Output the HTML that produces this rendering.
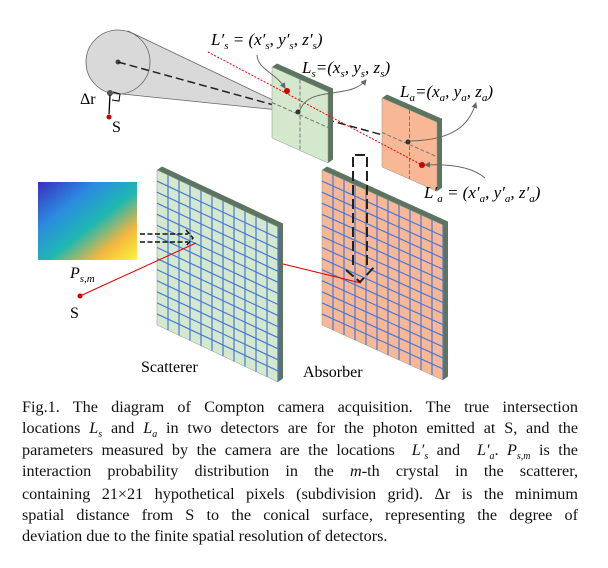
<!DOCTYPE html>
<html><head><meta charset="utf-8"><style>
body{margin:0;background:#fff;width:608px;height:568px;overflow:hidden;position:relative;font-family:"Liberation Serif",serif}
.cap{position:absolute;left:22px;width:556px;font-size:16.2px;line-height:21px;text-align:justify;text-align-last:justify;white-space:nowrap;color:#111}
.cap.last{text-align-last:left}
svg text{font-family:"Liberation Serif",serif}
</style></head><body>
<svg id="fig" width="608" height="390" style="position:absolute;left:0;top:0">
<defs>
<linearGradient id="hm" x1="0" y1="0" x2="1" y2="1">
<stop offset="0" stop-color="#3a2fbe"/><stop offset="0.3" stop-color="#2b8be0"/><stop offset="0.55" stop-color="#1fb8b0"/><stop offset="0.78" stop-color="#f5b540"/><stop offset="1" stop-color="#f7f73a"/></linearGradient>
<marker id="ah" markerWidth="6" markerHeight="6" refX="5" refY="3" orient="auto"><path d="M0,0 L6,3 L0,6z" fill="#666"/></marker>
</defs>
<g>
<polygon points="128,31 298,112 112,93" fill="#d9d9d9" stroke="#666" stroke-width="0.8"/>
<circle cx="118" cy="62" r="32" fill="#d9d9d9" stroke="#666" stroke-width="0.8"/>
<circle cx="118" cy="62" r="2.5" fill="#444"/>
<line x1="118" y1="62" x2="408" y2="142" stroke="#222" stroke-width="1.5" stroke-dasharray="8,4"/>
<circle cx="110" cy="93" r="3" fill="#555"/>
<line x1="110" y1="95" x2="109" y2="114" stroke="#000" stroke-width="1.3"/>
<polyline points="113,92 120,94 119,101 112,100" fill="none" stroke="#000" stroke-width="1"/>
<circle cx="109" cy="117" r="2.5" fill="#c00"/>
<text x="80" y="104" font-size="16">Δr</text>
<text x="112" y="132" font-size="16">S</text>
</g>
<g id="panels"></g>
<line x1="208" y1="52" x2="422" y2="165" stroke="#e00" stroke-width="1" stroke-dasharray="2,1.5"/>
<circle cx="287" cy="91" r="3" fill="#c00"/><circle cx="422" cy="165" r="3" fill="#c00"/>
<circle cx="298" cy="112" r="2.5" fill="#333"/><circle cx="408" cy="142" r="2.5" fill="#333"/>
<path d="M257,55 C258,70 275,72 285,88" fill="none" stroke="#666" stroke-width="1" marker-end="url(#ah)"/>
<path d="M300,110 C310,85 350,100 366,80" fill="none" stroke="#666" stroke-width="1" marker-end="url(#ah)"/>
<path d="M410,141 C460,140 470,120 476,103" fill="none" stroke="#666" stroke-width="1" marker-end="url(#ah)"/>
<path d="M485,178 C470,165 445,164 425,165" fill="none" stroke="#666" stroke-width="1" marker-end="url(#ah)"/>
<text x="211" y="45" font-size="17" font-style="italic">L′<tspan font-size="11" dy="4">s</tspan><tspan dy="-4"> = (x′</tspan><tspan font-size="11" dy="4">s</tspan><tspan dy="-4">, y′</tspan><tspan font-size="11" dy="4">s</tspan><tspan dy="-4">, z′</tspan><tspan font-size="11" dy="4">s</tspan><tspan dy="-4">)</tspan></text>
<text x="302" y="73" font-size="17" font-style="italic">L<tspan font-size="11" dy="4">s</tspan><tspan dy="-4">=(x</tspan><tspan font-size="11" dy="4">s</tspan><tspan dy="-4">, y</tspan><tspan font-size="11" dy="4">s</tspan><tspan dy="-4">, z</tspan><tspan font-size="11" dy="4">s</tspan><tspan dy="-4">)</tspan></text>
<text x="400" y="97" font-size="17" font-style="italic">L<tspan font-size="11" dy="4">a</tspan><tspan dy="-4">=(x</tspan><tspan font-size="11" dy="4">a</tspan><tspan dy="-4">, y</tspan><tspan font-size="11" dy="4">a</tspan><tspan dy="-4">, z</tspan><tspan font-size="11" dy="4">a</tspan><tspan dy="-4">)</tspan></text>
<text x="424" y="198" font-size="17" font-style="italic">L′<tspan font-size="11" dy="4">a</tspan><tspan dy="-4"> = (x′</tspan><tspan font-size="11" dy="4">a</tspan><tspan dy="-4">, y′</tspan><tspan font-size="11" dy="4">a</tspan><tspan dy="-4">, z′</tspan><tspan font-size="11" dy="4">a</tspan><tspan dy="-4">)</tspan></text>
<rect x="38" y="182" width="99" height="78" fill="url(#hm)"/>
<text x="70" y="278" font-size="16" font-style="italic">P<tspan font-size="11" dy="4">s,m</tspan></text>
<path d="M140,234 H188 M140,242 H188 M186,230 L193,238 L186,246" fill="none" stroke="#111" stroke-width="1.5" stroke-dasharray="5,2.5"/>
<circle cx="80" cy="296" r="2.5" fill="#c00"/>
<text x="70" y="318" font-size="16">S</text>
<line x1="80" y1="296" x2="196" y2="243" stroke="#d00" stroke-width="1"/>
<line x1="283" y1="264" x2="361" y2="283" stroke="#d00" stroke-width="1"/>
<path d="M353,265 V155 H367 V265 M346,270 L360,282 L376,265" fill="none" stroke="#222" stroke-width="2" stroke-dasharray="10,4"/>
<text x="141" y="372" font-size="16">Scatterer</text>
<text x="303" y="377" font-size="16">Absorber</text>
</svg>
<div class="cap" style="top:397px">Fig.1. The diagram of Compton camera acquisition. The true intersection</div>
<div class="cap" style="top:418px">locations <i>L<sub style="font-size:10px">s</sub></i> and <i>L<sub style="font-size:10px">a</sub></i> in two detectors are for the photon emitted at S, and the</div>
<div class="cap" style="top:440px">parameters measured by the camera are the locations &nbsp;<i>L′<sub style="font-size:10px">s</sub></i> and &nbsp;<i>L′<sub style="font-size:10px">a</sub></i>. <i>P<sub style="font-size:10px">s,m</sub></i> is the</div>
<div class="cap" style="top:461px">interaction probability distribution in the <i>m</i>-th crystal in the scatterer,</div>
<div class="cap" style="top:484px">containing 21×21 hypothetical pixels (subdivision grid). Δr is the minimum</div>
<div class="cap" style="top:505px">spatial distance from S to the conical surface, representing the degree of</div>
<div class="cap last" style="top:526px">deviation due to the finite spatial resolution of detectors.</div>
<script>
const panelNames=['scatterer-panel','absorber-panel','small-scatterer','small-absorber'];
const panelOrigins=[[157,170],[322,170],[272,67],[382,98]];
const panelSizes=[[121,155],[121,155],[56,71],[55,69]];
const panelSlopes=[0.471,0.455,0.446,0.44];
const panelFills=['#d3e8cc','#f8b896','#d3e8cc','#f8b896'];
const panelCells=[[11,14],[11,14],[0,0],[0,0]];
const NS='http://www.w3.org/2000/svg';
const root=document.getElementById('panels');
function mk(t,a,p){const e=document.createElementNS(NS,t);for(const k in a)e.setAttribute(k,a[k]);p.appendChild(e);return e;}
panelNames.forEach((n,i)=>{
 const [ox,oy]=panelOrigins[i],[w,h]=panelSizes[i],s=panelSlopes[i],th=5;
 const g=mk('g',{},root);
 
 
 const P=(u,v)=>[ox+u,oy+s*u+v];
 const tl=P(0,0),tr=P(w,0),br=P(w,h),bl=P(0,h);
 mk('polygon',{points:[tl,[tl[0]+th,tl[1]-th*0.7],[tr[0]+th,tr[1]-th*0.7],[br[0]+th,br[1]-th*0.7],br,tr].map(p=>p.join(',')).join(' '),fill:'#5d7560'},g);
 mk('polygon',{points:[tl,tr,br,bl].map(p=>p.join(',')).join(' '),fill:panelFills[i],stroke:'#8a9a8a','stroke-width':0.5},g);
 const [nc,nr]=panelCells[i];
 if(nc){
  for(let c=1;c<=nc;c++){const a=P(w*c/nc,0),b=P(w*c/nc,h);mk('line',{x1:a[0],y1:a[1],x2:b[0],y2:b[1],stroke:'#4a78d8','stroke-width':1.2},g);}
  for(let r=1;r<nr;r++){const a=P(0,h*r/nr),b=P(w,h*r/nr);mk('line',{x1:a[0],y1:a[1],x2:b[0],y2:b[1],stroke:'#4a78d8','stroke-width':1.2},g);}
 } else {
  const a=P(w/2,0),b=P(w/2,h),c=P(0,h/2),d=P(w,h/2);
  mk('line',{x1:a[0],y1:a[1],x2:b[0],y2:b[1],stroke:'#777','stroke-dasharray':'4,2'},g);
  mk('line',{x1:c[0],y1:c[1],x2:d[0],y2:d[1],stroke:'#777','stroke-dasharray':'4,2'},g);
 }
});
</script>
</body></html>
